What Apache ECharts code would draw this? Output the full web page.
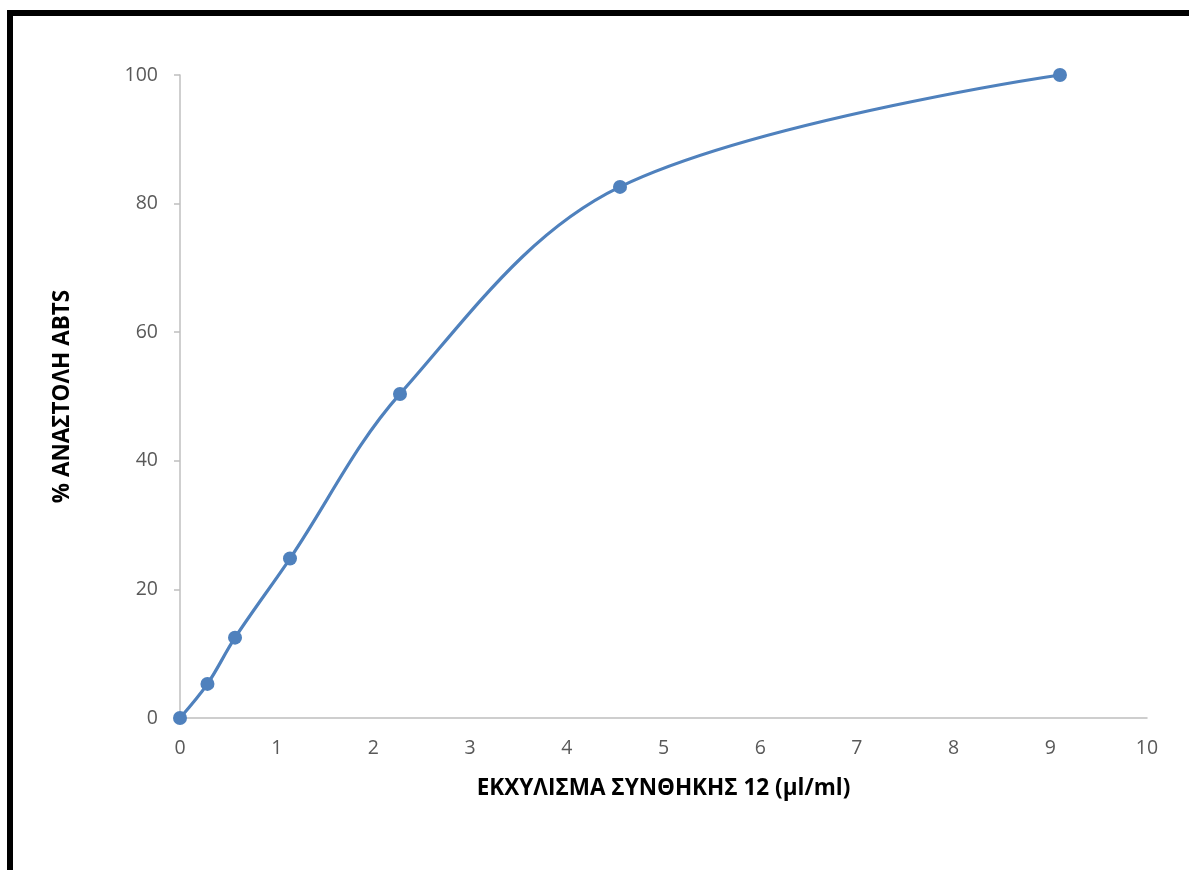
<!DOCTYPE html>
<html>
<head>
<meta charset="utf-8">
<script src="https://cdn.jsdelivr.net/npm/echarts@6/dist/echarts.min.js"></script>
<style>
  html, body { margin: 0; padding: 0; background: #ffffff; }
  #chart { width: 1189px; height: 870px; }
</style>
</head>
<body>
<div id="chart"></div>
<script>
// Extract concentration (µl/ml) and ABTS inhibition (%)
const concentrations = [0, 0.284, 0.569, 1.1375, 2.275, 4.55, 9.1];
const inhibition = [0, 5.3, 12.5, 24.8, 50.4, 82.6, 100];

const xTitle = 'ΕΚΧΥΛΙΣΜΑ ΣΥΝΘΗΚΗΣ 12 (μl/ml)';
const yTitle = '% ΑΝΑΣΤΟΛΗ ABTS';

const points = concentrations.map((x, i) => [x, inhibition[i]]);

const chart = echarts.init(document.getElementById('chart'), null, { renderer: 'canvas' });

const labelFont = '"Open Sans", Lato, sans-serif';

chart.setOption({
  backgroundColor: '#ffffff',
  animation: false,
  graphic: [{
    type: 'rect',
    shape: { x: 10, y: 13, width: 1300, height: 1000 },
    style: { fill: null, stroke: '#000000', lineWidth: 6 },
    silent: true,
    z: 100
  }],
  grid: { left: 180, right: 42, top: 75, bottom: 152, containLabel: false },
  xAxis: {
    type: 'value',
    min: 0, max: 10, interval: 1,
    name: xTitle,
    nameLocation: 'middle',
    nameGap: 59,
    nameTextStyle: { fontFamily: labelFont, fontWeight: 'bold', fontSize: 22.5, color: '#000000' },
    axisLine: { show: true, lineStyle: { color: '#bfbfbf', width: 1.5 } },
    axisTick: { show: false },
    splitLine: { show: false },
    axisLabel: { margin: 20, fontFamily: labelFont, fontSize: 19.5, color: '#595959' }
  },
  yAxis: {
    type: 'value',
    min: 0, max: 100, interval: 20,
    name: yTitle,
    nameLocation: 'middle',
    nameGap: 106,
    nameRotate: 90,
    nameTextStyle: { fontFamily: labelFont, fontWeight: 'bold', fontSize: 22.5, color: '#000000' },
    axisLine: { show: true, lineStyle: { color: '#bfbfbf', width: 1.5 } },
    axisTick: { show: true, inside: false, length: 6, lineStyle: { color: '#bfbfbf', width: 1.5 } },
    splitLine: { show: false },
    axisLabel: { margin: 22, fontFamily: labelFont, fontSize: 19.5, color: '#595959' }
  },
  series: [{
    type: 'line',
    data: points,
    smooth: 0.35,
    symbol: 'circle',
    symbolSize: 14,
    lineStyle: { color: '#4f81bd', width: 3.2 },
    itemStyle: { color: '#4f81bd' },
    z: 3
  }]
});
</script>
</body>
</html>
